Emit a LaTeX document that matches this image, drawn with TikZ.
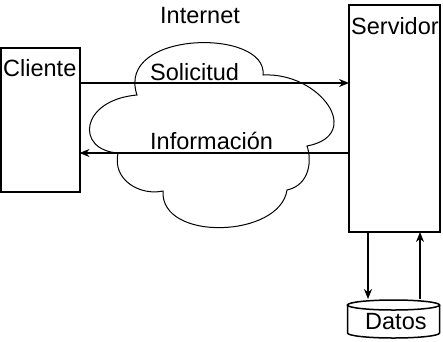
\documentclass[tikz,border=0pt]{standalone}
\usepackage{fontspec}
\setmainfont{Liberation Sans}
\usetikzlibrary{arrows.meta}
\tikzset{>={Stealth[length=10pt,width=8pt]}}
\tikzset{caja/.style={draw,line width=2pt,inner sep=0pt,outer sep=0pt},
  txt/.style={font=\fontsize{23.5}{28}\selectfont,inner sep=0pt},
  flecha/.style={->,line width=1.5pt}}
\newcommand{\nube}{%
  \draw[line width=1pt] (137,95) .. controls (115,30) and (268,28) .. (263,75)
    .. controls (320,72) and (365,135) .. (307,146)
    .. controls (312,160) and (310,185) .. (287,190)
    .. controls (280,238) and (160,242) .. (163,191)
    .. controls (140,196) and (112,180) .. (118,153)
    .. controls (75,150) and (80,100) .. cycle;
}
\newcommand{\cilindro}{%
  \draw[line width=1.5pt] (393.5,305) ellipse [x radius=46, y radius=5];
  \draw[line width=1.5pt] (347.5,305) -- (347.5,333)
    arc [start angle=180, end angle=0, x radius=46, y radius=5] -- (439.5,305);
}

\begin{document}
\begin{tikzpicture}[x=1pt,y=-1pt]
\useasboundingbox (0,0) rectangle (443,341);
\nube
\cilindro
\node[caja,minimum width=78.5pt,minimum height=144pt] (cliente) at (40.25,120) {};
\node[caja,minimum width=91pt,minimum height=227pt] (servidor) at (394.5,118.5) {};
\node[txt,anchor=base west] (tcli) at (3,76) {Cliente};
\node[txt,anchor=base west] (tserv) at (351,34) {Servidor};
\node[txt,anchor=base west] (tnet) at (160,23) {Internet};
\node[txt,anchor=base west] (tsol) at (150,80) {Solicitud};
\node[txt,anchor=base west] (tinf) at (150,149) {Información};
\node[txt,anchor=base west] (datos) at (365,329) {Datos};
\coordinate (sol) at (0,83);
\coordinate (inf) at (0,153);
\coordinate (bdA) at (368,299);
\coordinate (bdB) at (420,299);
\draw[flecha] (cliente.east |- sol) -- (servidor.west |- sol);
\draw[flecha] (servidor.west |- inf) -- (cliente.east |- inf);
\draw[flecha] (servidor.south -| bdA) -- (bdA);
\draw[flecha] (bdB) -- (servidor.south -| bdB);
\end{tikzpicture}
\end{document}
